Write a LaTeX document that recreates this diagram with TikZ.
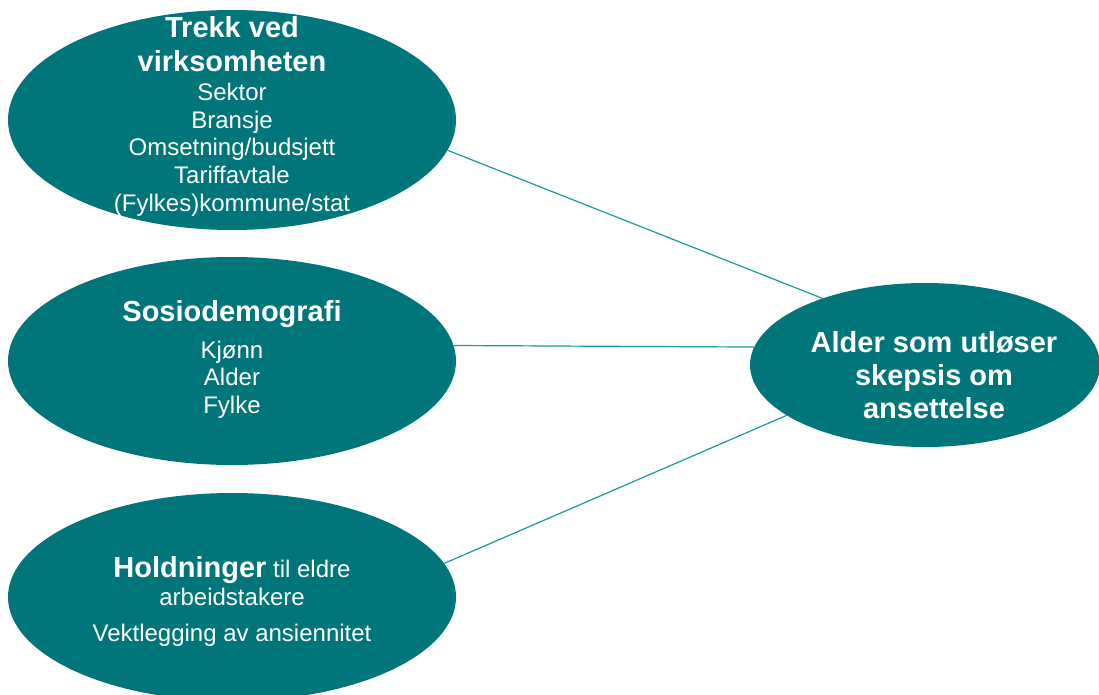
\documentclass[tikz,border=0pt]{standalone}
\usepackage{fontspec}
\setmainfont{Liberation Sans}
\usetikzlibrary{shapes.geometric}
\definecolor{tealfill}{HTML}{00767A}
\definecolor{tealline}{HTML}{1A9A9B}

\begin{document}
\begin{tikzpicture}[x=1pt, y=-1pt,
	bubble/.style = {ellipse, fill=tealfill, inner sep=0pt},
	headtext/.style = {text=white, align=center, anchor=base, font=\fontsize{29}{34}\selectfont\bfseries},
	bodytext/.style = {text=white, align=center, anchor=base, font=\fontsize{24}{27.5}\selectfont},
	link/.style = {draw=tealline, line width=1.2pt}
]
	\useasboundingbox (0,0) rectangle (1099,695);
	\node[bubble, minimum width=448pt, minimum height=220pt] (firm) at (232,120) {};
	\node[bubble, minimum width=448pt, minimum height=208pt] (demo) at (232,361) {};
	\node[bubble, minimum width=448pt, minimum height=208pt] (attit) at (232,597) {};
	\node[bubble, minimum width=350pt, minimum height=164pt] (age) at (925,365) {};
	\node[headtext] (firmhead) at (232,72) {Trekk ved\\virksomheten};
	\node[bodytext] (firmbody) at (232,211) {Sektor\\Bransje\\Omsetning/budsjett\\Tariffavtale\\(Fylkes)kommune/stat};
	\node[headtext] (demohead) at (232,321) {Sosiodemografi};
	\node[bodytext] (demobody) at (232,413) {Kjønn\\Alder\\Fylke};
	\node[bodytext] (attitbody) at (232,605) {{\fontsize{29}{33.5}\selectfont\bfseries Holdninger} til eldre\\arbeidstakere};
	\node[bodytext] (senior) at (232,641) {Vektlegging av ansiennitet};
	\node[headtext, font=\fontsize{29}{33}\selectfont\bfseries] (agehead) at (934,418) {Alder som utløser\\skepsis om\\ansettelse};
	\draw[link] (firm.-8.5) -- (age.147.5);
	\draw[link] (demo.4.9) -- (age.174);
	\draw[link] (attit.9.1) -- (age.-160);
\end{tikzpicture}
\end{document}
